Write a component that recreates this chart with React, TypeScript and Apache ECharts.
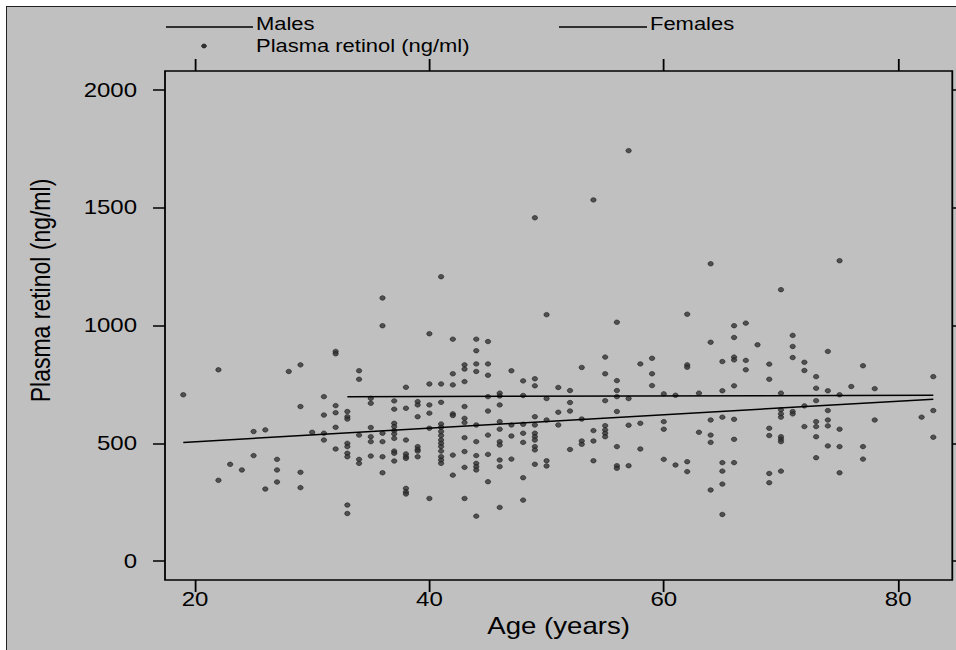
import React, { useEffect, useRef } from "react";
import * as echarts from "echarts";

// Axis ticks
const xTicks = [20, 40, 60, 80];
const yTicks = [0, 500, 1000, 1500, 2000];

// Scatter data: age (years) and plasma retinol (ng/ml), read column by column
const ages = [
  19,
  22, 22,
  23,
  24,
  25, 25,
  26, 26,
  27, 27, 27,
  28,
  29, 29, 29, 29,
  30,
  31, 31, 31, 31,
  32, 32, 32, 32, 32, 32,
  33, 33, 33, 33, 33, 33, 33, 33, 33,
  34, 34, 34, 34, 34,
  35, 35, 35, 35, 35, 35,
  36, 36, 36, 36, 36, 36,
  37, 37, 37, 37, 37, 37, 37, 37, 37, 37,
  38, 38, 38, 38, 38, 38, 38, 38, 38,
  39, 39, 39, 39, 39, 39, 39,
  40, 40, 40, 40, 40, 40,
  41, 41, 41, 41, 41, 41, 41, 41, 41, 41, 41, 41, 41, 41,
  42, 42, 42, 42, 42, 42, 42,
  43, 43, 43, 43, 43, 43, 43, 43, 43, 43,
  44, 44, 44, 44, 44, 44, 44, 44, 44, 44, 44,
  45, 45, 45, 45, 45, 45, 45, 45,
  46, 46, 46, 46, 46, 46, 46, 46, 46, 46,
  47, 47, 47, 47,
  48, 48, 48, 48, 48, 48, 48,
  49, 49, 49, 49, 49, 49, 49, 49, 49, 49, 49,
  50, 50, 50, 50, 50,
  51, 51, 51,
  52, 52, 52, 52,
  53, 53, 53, 53,
  54, 54, 54, 54,
  55, 55, 55, 55, 55, 55, 55,
  56, 56, 56, 56, 56, 56, 56, 56,
  57, 57, 57, 57,
  58, 58, 58,
  59, 59, 59,
  60, 60, 60, 60,
  61, 61,
  62, 62, 62, 62, 62,
  63, 63,
  64, 64, 64, 64, 64, 64,
  65, 65, 65, 65, 65, 65, 65,
  66, 66, 66, 66, 66, 66, 66, 66,
  67, 67, 67,
  68,
  69, 69, 69, 69, 69, 69,
  70, 70, 70, 70, 70, 70, 70, 70, 70,
  71, 71, 71, 71, 71,
  72, 72, 72, 72,
  73, 73, 73, 73, 73, 73, 73,
  74, 74, 74, 74, 74, 74,
  75, 75, 75, 75, 75,
  76,
  77, 77, 77,
  78, 78,
  82,
  83, 83, 83,
];

const retinol = [
  706,
  812, 343,
  411,
  387,
  550, 448,
  557, 306,
  432, 387, 336,
  805,
  833, 656, 377, 312,
  547,
  698, 620, 543, 514,
  890, 880, 660, 630, 568, 476,
  635, 613, 603, 500, 486, 458, 443, 238, 202,
  808, 772, 535, 432, 415,
  691, 670, 567, 528, 507, 446,
  1117, 999, 543, 507, 443, 375,
  680, 645, 585, 571, 554, 540, 521, 467, 458, 425,
  738, 649, 514, 455, 443, 436, 309, 294, 285,
  677, 663, 613, 486, 474, 467, 443,
  965, 752, 663, 628, 564, 266,
  1207, 752, 674, 582, 568, 550, 533, 514, 500, 486, 467, 443, 429, 415,
  942, 795, 748, 625, 618, 450, 365,
  833, 815, 762, 656, 606, 588, 524, 465, 398, 266,
  942, 893, 837, 805, 578, 507, 448, 415, 401, 387, 191,
  932, 837, 789, 698, 637, 535, 453, 337,
  713, 701, 663, 592, 560, 507, 493, 429, 401, 228,
  808, 578, 531, 433,
  765, 703, 581, 543, 504, 354, 259,
  1457, 774, 744, 613, 578, 543, 528, 514, 486, 472, 411,
  1046, 690, 599, 426, 404,
  737, 632, 578,
  724, 673, 637, 474,
  822, 603, 510, 496,
  1533, 554, 510, 426,
  866, 795, 681, 575, 557, 543, 528,
  1014, 766, 724, 698, 635, 486, 405, 394,
  1742, 690, 577, 405,
  837, 585, 476,
  861, 795, 745,
  710, 592, 560, 432,
  704, 408,
  1048, 833, 823, 422, 380,
  713, 547,
  1262, 929, 599, 535, 504, 302,
  847, 723, 611, 418, 382, 327, 198,
  999, 949, 866, 854, 744, 602, 517, 418,
  1010, 852, 812,
  918,
  836, 772, 564, 533, 372, 333,
  1152, 713, 642, 625, 611, 528, 517, 507, 382,
  958, 911, 864, 635, 625,
  844, 809, 659, 571,
  783, 734, 681, 592, 571, 528, 439,
  890, 723, 639, 599, 574, 489,
  1275, 706, 560, 486, 375,
  741,
  829, 486, 433,
  732, 599,
  611,
  783, 639, 526,
];

// Fitted lines (end points)
const malesAges = [19, 83];
const malesFit = [504, 687];
const femalesAges = [33, 83];
const femalesFit = [698, 704];

const FONT = '"Liberation Sans", Arial, sans-serif';
// The reference picture is horizontally stretched; draw at a narrower width and stretch.
const S = 1.2;
const W = 956 / S;
const sx = (px: number) => px / S;

export default function App() {
  const ref = useRef<HTMLDivElement>(null);

  useEffect(() => {
    if (!ref.current) return;
    const chart = echarts.init(ref.current, undefined, { renderer: "svg" });
    const points = ages.map((a, i) => [a, retinol[i]]);
    const males = malesAges.map((a, i) => [a, malesFit[i]]);
    const females = femalesAges.map((a, i) => [a, femalesFit[i]]);

    const tickStyle = { color: "#000", width: 1.5 };
    const labelStyle = { color: "#000", fontSize: 20, fontFamily: FONT };
    const xRange = { min: 17.44, max: 84.62 };
    const yRange = { min: -80, max: 2080 };

    chart.setOption({
      animation: false,
      backgroundColor: "transparent",
      grid: {
        left: sx(165),
        top: 71,
        width: sx(787.3),
        height: 509,
        show: true,
        borderColor: "#000",
        borderWidth: 1.5,
        backgroundColor: "transparent",
        containLabel: false,
      },
      xAxis: [
        {
          type: "value",
          ...xRange,
          position: "bottom",
          axisLine: { show: false, onZero: false },
          splitLine: { show: false },
          axisTick: { show: true, inside: false, length: 12, lineStyle: tickStyle, customValues: xTicks },
          axisLabel: { ...labelStyle, margin: 9, customValues: xTicks },
          name: "Age (years)",
          nameLocation: "middle",
          nameGap: 22,
          nameTextStyle: { color: "#000", fontSize: 23, fontFamily: FONT, verticalAlign: "top" },
        },
        {
          type: "value",
          ...xRange,
          position: "top",
          axisLine: { show: false, onZero: false },
          splitLine: { show: false },
          axisTick: { show: true, inside: false, length: 12, lineStyle: tickStyle, customValues: xTicks },
          axisLabel: { show: false, customValues: xTicks },
        },
      ],
      yAxis: [
        {
          type: "value",
          ...yRange,
          position: "left",
          axisLine: { show: false, onZero: false },
          splitLine: { show: false },
          axisTick: { show: true, inside: false, length: sx(12), lineStyle: tickStyle, customValues: yTicks },
          axisLabel: {
            ...labelStyle,
            margin: sx(28),
            customValues: yTicks,
            formatter: (v: number) => String(v),
          },
          name: "Plasma retinol (ng/ml)",
          nameLocation: "middle",
          nameGap: sx(111),
          nameTextStyle: { color: "#000", fontSize: 23, fontFamily: FONT, padding: [0, 0, 0, 70] },
        },
        {
          type: "value",
          ...yRange,
          position: "right",
          axisLine: { show: false, onZero: false },
          splitLine: { show: false },
          axisTick: { show: true, inside: false, length: sx(12), lineStyle: tickStyle, customValues: yTicks },
          axisLabel: { show: false, customValues: yTicks },
        },
      ],
      series: [
        {
          type: "scatter",
          name: "Plasma retinol (ng/ml)",
          data: points,
          symbol: "circle",
          symbolSize: 4.5,
          itemStyle: { color: "#333", borderColor: "#151515", borderWidth: 0.6 },
          z: 2,
        },
        {
          type: "line",
          name: "Males",
          data: males,
          showSymbol: false,
          symbol: "none",
          lineStyle: { color: "#000", width: 1.5 },
          z: 3,
        },
        {
          type: "line",
          name: "Females",
          data: females,
          showSymbol: false,
          symbol: "none",
          lineStyle: { color: "#000", width: 1.5 },
          z: 3,
        },
      ],
      graphic: [
        { type: "line", shape: { x1: sx(166), y1: 27, x2: sx(253), y2: 27 }, style: { stroke: "#000", lineWidth: 1.3 } },
        { type: "text", x: sx(256), y: 24, style: { text: "Males", fill: "#000", fontSize: 18.3, fontFamily: FONT, verticalAlign: "middle", align: "left" } },
        { type: "line", shape: { x1: sx(559), y1: 27, x2: sx(647), y2: 27 }, style: { stroke: "#000", lineWidth: 1.3 } },
        { type: "text", x: sx(650), y: 24, style: { text: "Females", fill: "#000", fontSize: 18.3, fontFamily: FONT, verticalAlign: "middle", align: "left" } },
        { type: "circle", shape: { cx: sx(204), cy: 46, r: 2 }, style: { fill: "#333", stroke: "#151515", lineWidth: 0.6 } },
        { type: "text", x: sx(256), y: 46, style: { text: "Plasma retinol (ng/ml)", fill: "#000", fontSize: 18.3, fontFamily: FONT, verticalAlign: "middle", align: "left" } },
      ],
    });
    return () => chart.dispose();
  }, []);

  return (
    <div style={{ position: "fixed", left: 0, top: 0, width: 956, height: 650, overflow: "hidden", background: "#fff" }}>
      <div
        style={{
          position: "absolute",
          left: 6,
          top: 6,
          width: 1000,
          height: 700,
          border: "1.5px solid #222",
          background: "#c0c0c0",
        }}
      />
      <div
        ref={ref}
        style={{
          position: "absolute",
          left: 0,
          top: 0,
          width: W,
          height: 650,
          transform: `scaleX(${S})`,
          transformOrigin: "0 0",
        }}
      />
    </div>
  );
}
